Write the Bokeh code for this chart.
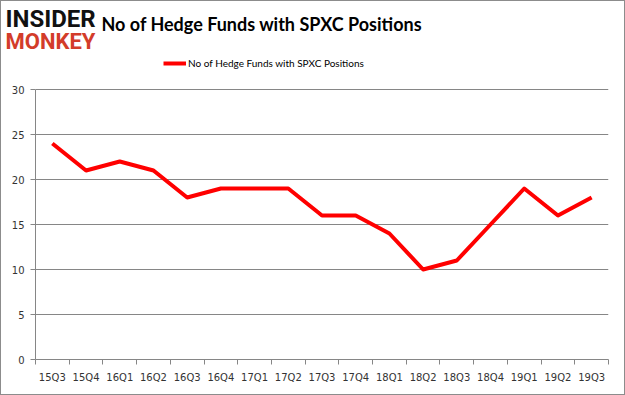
from bokeh.plotting import figure
from bokeh.layouts import column
from bokeh.models import FixedTicker, Range1d, Label, Legend, LegendItem
from bokeh.embed import file_html
from bokeh.resources import INLINE

categories = ["15Q3", "15Q4", "16Q1", "16Q2", "16Q3", "16Q4", "17Q1", "17Q2", "17Q3",
              "17Q4", "18Q1", "18Q2", "18Q3", "18Q4", "19Q1", "19Q2", "19Q3"]
values = [24, 21, 22, 21, 18, 19, 19, 19, 16, 16, 14, 10, 11, 15, 19, 16, 18]
yticks = [0, 5, 10, 15, 20, 25, 30]
series_name = "No of Hedge Funds with SPXC Positions"
title_text = "No of Hedge Funds with SPXC Positions"

n = len(categories)
xs = [i + 0.5 for i in range(n)]

TOTAL_W, TOTAL_H = 623, 393
HEAD_H = 52
FL, FR, Y30, Y0 = 34, 607, 88, 358
px_per_unit = (Y0 - Y30) / 30.0
ytop = 30 + (Y30 - HEAD_H) / px_per_unit

# ---- header (logo + title) ----
head = figure(width=TOTAL_W, height=HEAD_H, output_backend="svg", toolbar_location=None,
              x_range=Range1d(0, TOTAL_W), y_range=Range1d(HEAD_H, 0), title=None,
              x_axis_type=None, y_axis_type=None,
              min_border_left=0, min_border_right=0, min_border_top=0, min_border_bottom=0)
head.frame_align = False
head.outline_line_color = None
head.xgrid.visible = False
head.ygrid.visible = False

head.add_layout(Label(x=100, y=22.5, text=title_text, text_font="Lato",
                      text_font_style="bold", text_font_size="18px", text_color="#000000",
                      text_baseline="middle", text_align="left"))
head.add_layout(Label(x=4, y=17, text="INSIDER", text_font="Roboto",
                      text_font_style="bold", text_font_size="24px", text_color="#111111",
                      text_baseline="middle", text_align="left"))
head.add_layout(Label(x=4, y=40, text="MONKEY", text_font="Roboto",
                      text_font_style="bold", text_font_size="22px", text_color="#d33c2a",
                      text_baseline="middle", text_align="left"))

# ---- main chart ----
p = figure(width=TOTAL_W, height=TOTAL_H - HEAD_H, output_backend="svg", toolbar_location=None,
           x_range=Range1d(0, n), y_range=Range1d(0, ytop), title=None,
           min_border_left=FL, min_border_right=TOTAL_W - FR,
           min_border_top=0, min_border_bottom=TOTAL_H - Y0)
p.frame_align = False
p.outline_line_color = None
p.background_fill_color = "white"
p.border_fill_color = "white"

GRAY = "#868686"
p.xaxis.ticker = FixedTicker(ticks=xs, minor_ticks=list(range(n + 1)))
p.xaxis.major_label_overrides = {x: c for x, c in zip(xs, categories)}
p.xaxis.major_tick_line_color = None
p.xaxis.minor_tick_out = 5
p.xaxis.minor_tick_in = 0
p.xaxis.minor_tick_line_color = GRAY
p.xaxis.axis_line_color = GRAY
p.xaxis.major_label_text_font = "DejaVu Sans"
p.xaxis.major_label_text_font_size = "10px"
p.xaxis.major_label_text_color = "#333333"
p.xaxis.major_label_standoff = 6
p.xgrid.visible = False

p.yaxis.ticker = FixedTicker(ticks=yticks)
p.yaxis.bounds = (0, 30)
p.yaxis.major_tick_out = 5
p.yaxis.major_tick_in = 0
p.yaxis.major_tick_line_color = GRAY
p.yaxis.minor_tick_line_color = None
p.yaxis.axis_line_color = GRAY
p.yaxis.major_label_text_font = "DejaVu Sans"
p.yaxis.major_label_text_font_size = "10px"
p.yaxis.major_label_text_color = "#333333"
p.yaxis.major_label_standoff = 6
p.ygrid.grid_line_color = GRAY
p.ygrid.grid_line_width = 1

r = p.line(xs, values, line_color="#ff0000", line_width=4, line_join="round")

legend = Legend(items=[LegendItem(label=series_name, renderers=[r])],
                location=(162 - FL, Y0 - 62 - 6),
                orientation="horizontal",
                glyph_width=23, glyph_height=12, label_standoff=2, padding=0, margin=0,
                border_line_color=None, background_fill_alpha=0,
                label_text_font="Lato", label_text_font_size="10px",
                label_text_color="#000000")
p.add_layout(legend)

layout = column(head, p, spacing=0,
                styles={"border": "1px solid #8c8c8c"})

open("out.html", "w").write(file_html(layout, INLINE))
